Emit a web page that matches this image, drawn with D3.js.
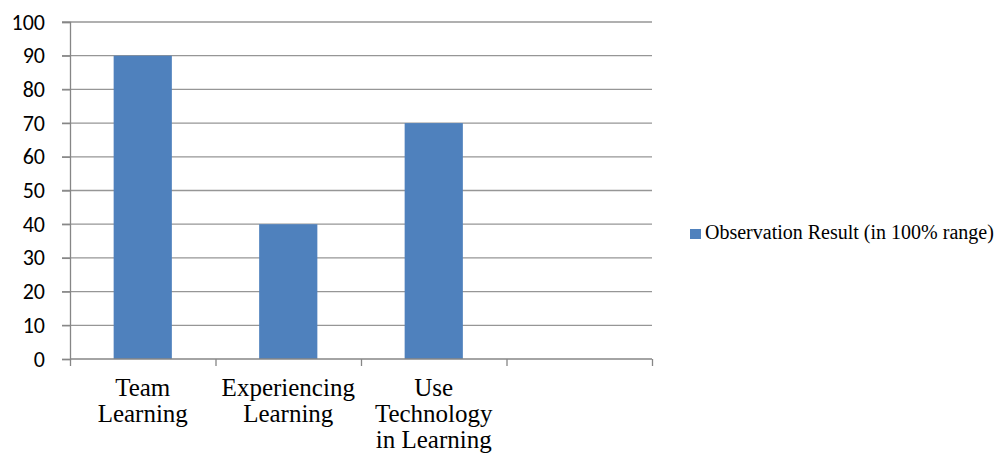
<!DOCTYPE html>
<html>
<head>
<meta charset="utf-8">
<script src="https://cdn.jsdelivr.net/npm/d3@7"></script>
<style>
  body { margin: 0; background: #fff; }
</style>
</head>
<body>
<div id="chart"></div>
<script>
const categories = [["Team", "Learning"], ["Experiencing", "Learning"], ["Use", "Technology", "in Learning"], [""]];
const values = [90, 40, 70, null];
const seriesName = "Observation Result (in 100% range)";
const yTicks = [0, 10, 20, 30, 40, 50, 60, 70, 80, 90, 100];

const W = 995, H = 457;
const plotLeft = 70, plotRight = 652, plotTop = 22, plotBottom = 359;
const serifFont = "Liberation Serif, DejaVu Serif, serif";

const svg = d3.select("#chart").append("svg")
  .attr("width", W).attr("height", H);

const x = d3.scaleBand()
  .domain(d3.range(categories.length))
  .range([plotLeft, plotRight])
  .paddingInner(0).paddingOuter(0);

const y = d3.scaleLinear().domain([0, 100]).range([plotBottom, plotTop]);

// gridlines
svg.append("g").selectAll("line")
  .data(yTicks.filter(d => d > 0))
  .enter().append("line")
  .attr("x1", plotLeft - 8).attr("x2", plotRight)
  .attr("y1", d => y(d)).attr("y2", d => y(d))
  .attr("stroke", "#969696").attr("stroke-width", 1.3);

// bars
const barW = x.bandwidth() * 0.4;
svg.append("g").selectAll("rect")
  .data(values.map((v, i) => ({ v, i })).filter(d => d.v != null))
  .enter().append("rect")
  .attr("x", d => x(d.i) + (x.bandwidth() - barW) / 2)
  .attr("y", d => y(d.v))
  .attr("width", barW)
  .attr("height", d => y(0) - y(d.v))
  .attr("fill", "#4F81BD");

// y axis
const yAxis = svg.append("g")
  .attr("transform", `translate(${plotLeft},0)`)
  .call(d3.axisLeft(y).tickValues(yTicks).tickSize(8).tickPadding(17));
yAxis.select(".domain").attr("stroke", "#868686").attr("stroke-width", 1.3);
yAxis.selectAll(".tick line").attr("stroke", "#868686").attr("stroke-width", 1.3);
yAxis.selectAll("text")
  .style("font-family", "Carlito, 'Open Sans', 'Liberation Sans', sans-serif")
  .style("font-size", "22px").attr("fill", "#000");

// x axis
const xAxis = svg.append("g")
  .attr("transform", `translate(0,${plotBottom})`)
  .call(d3.axisBottom(d3.scaleLinear().domain([0, categories.length]).range([plotLeft, plotRight]))
    .tickValues(d3.range(categories.length + 1)).tickSize(7).tickFormat(""));
xAxis.select(".domain").attr("stroke", "#868686").attr("stroke-width", 1.3)
  .attr("d", `M${plotLeft},0H${plotRight}`);
xAxis.selectAll(".tick line").attr("stroke", "#868686").attr("stroke-width", 1.3);

// category labels
const labels = svg.append("g").selectAll("text")
  .data(categories)
  .enter().append("text")
  .attr("x", (d, i) => x(i) + x.bandwidth() / 2)
  .attr("y", 396)
  .attr("text-anchor", "middle")
  .style("font-family", serifFont)
  .style("font-size", "25px")
  .attr("fill", "#000");
labels.selectAll("tspan")
  .data(d => d)
  .enter().append("tspan")
  .attr("x", function () { return d3.select(this.parentNode).attr("x"); })
  .attr("dy", (d, i) => i === 0 ? 0 : 26)
  .text(d => d);

// legend
const lg = svg.append("g").attr("transform", "translate(690,229)");
lg.append("rect").attr("width", 11).attr("height", 10).attr("fill", "#4F81BD");
lg.append("text")
  .attr("x", 15).attr("y", 10)
  .style("font-family", serifFont)
  .style("font-size", "20px")
  .attr("fill", "#000")
  .text(seriesName);
</script>
</body>
</html>
